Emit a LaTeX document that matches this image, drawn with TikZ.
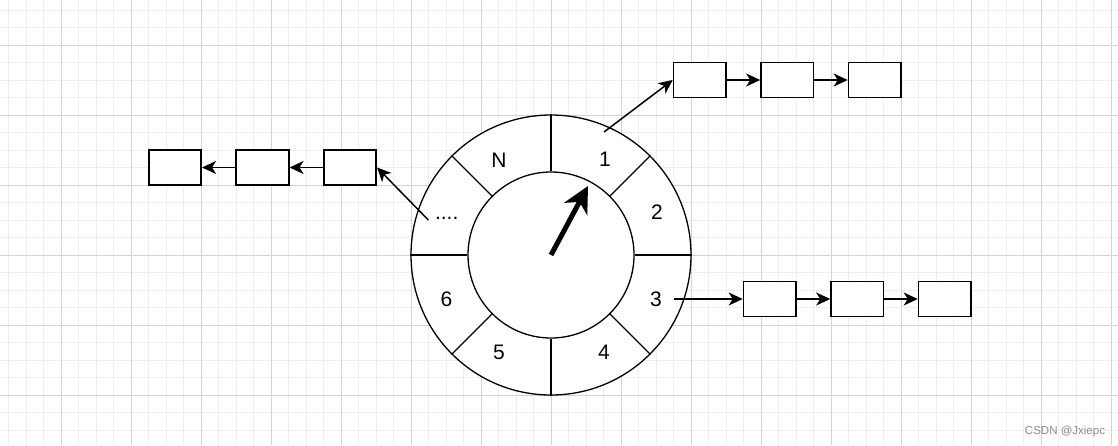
\documentclass[tikz,border=0pt]{standalone}
\usepackage{fontspec}
\setmainfont{Liberation Sans}
\usetikzlibrary{arrows.meta}
\definecolor{minorgrid}{HTML}{EEEEEE}
\definecolor{majorgrid}{HTML}{D4D4D4}
\definecolor{wmgray}{HTML}{8C8C8C}
\begin{document}
\begin{tikzpicture}[x=1pt,y=-1pt,
  box/.style={draw, line width=1.6pt, minimum width=52.5pt, minimum height=35pt, inner sep=0pt, fill=white},
  conn/.style={line width=1.5pt, -{Stealth[length=14pt,width=13pt,inset=4pt]}},
  lbl/.style={inner sep=0pt, font=\fontsize{21}{25}\selectfont},
  ring/.style={line width=1.3pt},
  minorline/.style={minorgrid, line width=1pt},
  majorline/.style={majorgrid, line width=1pt}]
\useasboundingbox (0,0) rectangle (1118,445);
\fill[white] (0,0) rectangle (1118,445);
% grid
\foreach \i in {0,...,64} \draw[minorline] ({8.5+17.5*\i},0) -- ({8.5+17.5*\i},445);
\foreach \i in {0,...,25} \draw[minorline] (0,{10+17.5*\i}) -- (1118,{10+17.5*\i});
\foreach \i in {0,...,15} \draw[majorline] ({61+70*\i},0) -- ({61+70*\i},445);
\foreach \i in {0,...,6} \draw[majorline] (0,{45+70*\i}) -- (1118,{45+70*\i});
% wheel
\node[circle, draw, ring, minimum size=280pt, inner sep=0pt, fill=white] (outer) at (551,255) {};
\node[circle, draw, ring, minimum size=166pt, inner sep=0pt, fill=white] (inner) at (551,255) {};
\foreach \a in {0,45,...,315} \draw[ring] (inner.\a) -- (outer.\a);
% labels
\node[lbl] (lN) at (499,160) {N};
\node[lbl] (l1) at (605,159) {1};
\node[lbl] (l2) at (657,212) {2};
\node[lbl] (l3) at (656,299.5) {3};
\node[lbl] (l4) at (604,352.5) {4};
\node[lbl] (l5) at (499,352.5) {5};
\node[lbl] (l6) at (446.5,299.5) {6};
\node[lbl, anchor=base] (ldots) at (446.7,219) {....};
% pointer
\coordinate (ptip) at (588,186);
\draw[line width=5pt, -{Stealth[length=26pt,width=26pt,inset=8pt]}] (inner.center) -- (ptip);
% top chain
\node[box] (t1) at (699.75,80) {};
\node[box] (t2) at (787.25,80) {};
\node[box] (t3) at (874.75,80) {};
\coordinate (s1) at (604,132);
\draw[conn] (s1) -- (t1.west);
\draw[conn] (t1) -- (t2);
\draw[conn] (t2) -- (t3);
% right chain
\node[box] (r1) at (769.75,299) {};
\node[box] (r2) at (857.25,299) {};
\node[box] (r3) at (944.75,299) {};
\coordinate (s3) at (674,299);
\draw[conn] (s3) -- (r1.west);
\draw[conn] (r1) -- (r2);
\draw[conn] (r2) -- (r3);
% left chain
\node[box] (a1) at (175,167.5) {};
\node[box] (a2) at (262.5,167.5) {};
\node[box] (a3) at (350,167.5) {};
\coordinate (sd) at (428.3,220);
\draw[conn] (sd) -- (a3.east);
\draw[conn] (a3) -- (a2);
\draw[conn] (a2) -- (a1);
% watermark
\node[inner sep=0pt, text=wmgray, font=\fontsize{11.5}{13}\selectfont] (wm) at (1065,431.5) {CSDN @Jxiepc};
\end{tikzpicture}
\end{document}
